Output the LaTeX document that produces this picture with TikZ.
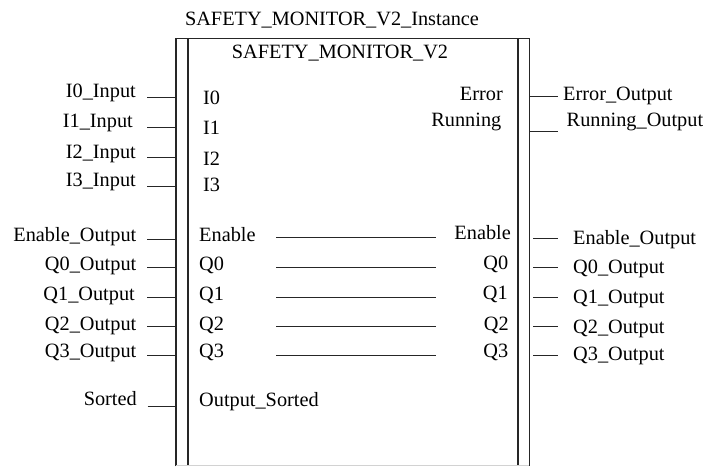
\documentclass[tikz,border=0pt]{standalone}
\usepackage{fontspec}
\setmainfont{Liberation Serif}
\usetikzlibrary{positioning}

\begin{document}
\begin{tikzpicture}[x=1pt, y=-1pt,
lbl/.style={inner sep=0pt, font=\fontsize{20.3}{24}\selectfont},
leftlbl/.style={lbl, anchor=base east},
rightlbl/.style={lbl, anchor=base west},
wire/.style={black!85, line width=1pt},
blockline/.style={black!85, line width=1.2pt}
]
\useasboundingbox (0,0) rectangle (703,466);

% function block
\node[inner sep=0pt, minimum width=353, minimum height=427.3, anchor=north west] (blk) at (176,38.7) {};
\draw[blockline] (blk.south west) -- (blk.north west) -- (blk.north east) -- (blk.south east);
\draw[blockline] ([xshift=12]blk.north west) -- ([xshift=12]blk.south west);
\draw[blockline] ([xshift=-11.5]blk.north east) -- ([xshift=-11.5]blk.south east);
\draw[gray!35] ([yshift=1]blk.south west) -- ([yshift=1]blk.south east);

\node[lbl, anchor=base] (inst) at (332,25) {SAFETY\_MONITOR\_V2\_Instance};
\node[lbl, anchor=base] (fbname) at (340,58.3) {SAFETY\_MONITOR\_V2};

% inputs
\node[leftlbl] (i0in) at (136,97.3) {I0\_Input};
\node[leftlbl] (i1in) at (133,127) {I1\_Input};
\node[leftlbl] (i2in) at (136,158) {I2\_Input};
\node[leftlbl] (i3in) at (136,186) {I3\_Input};
\node[leftlbl] (enin) at (136.5,241.7) {Enable\_Output};
\node[leftlbl] (q0in) at (136.5,270.7) {Q0\_Output};
\node[leftlbl] (q1in) at (135,300) {Q1\_Output};
\node[leftlbl] (q2in) at (136.5,330) {Q2\_Output};
\node[leftlbl] (q3in) at (136.5,357.5) {Q3\_Output};
\node[leftlbl] (sortin) at (137,405.5) {Sorted};

\coordinate (wi0) at (147,97);
\coordinate (wi1) at (147,127.5);
\coordinate (wi2) at (147,157);
\coordinate (wi3) at (147,186.5);
\coordinate (wen) at (147,239);
\coordinate (wq0) at (147,267.5);
\coordinate (wq1) at (147,297);
\coordinate (wq2) at (147,326);
\coordinate (wq3) at (147,355);
\coordinate (wsort) at (147.5,406);
\draw[wire] (wi0) -- (wi0 -| blk.west);
\draw[wire] (wi1) -- (wi1 -| blk.west);
\draw[wire] (wi2) -- (wi2 -| blk.west);
\draw[wire] (wi3) -- (wi3 -| blk.west);
\draw[wire] (wen) -- (wen -| blk.west);
\draw[wire] (wq0) -- (wq0 -| blk.west);
\draw[wire] (wq1) -- (wq1 -| blk.west);
\draw[wire] (wq2) -- (wq2 -| blk.west);
\draw[wire] (wq3) -- (wq3 -| blk.west);
\draw[wire] (wsort) -- (wsort -| blk.west);

% pins inside
\node[rightlbl] (pi0) at (203,104) {I0};
\node[rightlbl] (pi1) at (203,134) {I1};
\node[rightlbl] (pi2) at (203,165) {I2};
\node[rightlbl] (pi3) at (203,191.7) {I3};
\node[rightlbl] (pen) at (199,241.7) {Enable};
\node[rightlbl] (pq0) at (199,270.7) {Q0};
\node[rightlbl] (pq1) at (199,300) {Q1};
\node[rightlbl] (pq2) at (199,330) {Q2};
\node[rightlbl] (pq3) at (199,357.5) {Q3};
\node[rightlbl] (psort) at (199,406) {Output\_Sorted};

\node[leftlbl] (perr) at (503,100.7) {Error};
\node[leftlbl] (prun) at (501.5,126.7) {Running};
\node[leftlbl] (pen2) at (511,239) {Enable};
\node[leftlbl] (pq02) at (508.5,269.3) {Q0};
\node[leftlbl] (pq12) at (508,299) {Q1};
\node[leftlbl] (pq22) at (509,330) {Q2};
\node[leftlbl] (pq32) at (508.5,357.7) {Q3};

% pass-through lines
\coordinate (len) at (276,237.7);
\coordinate (lq0) at (276,267.3);
\coordinate (lq1) at (276,297.3);
\coordinate (lq2) at (276,326);
\coordinate (lq3) at (276,355.7);
\draw[wire] (len) -- ++(160,0);
\draw[wire] (lq0) -- ++(160,0);
\draw[wire] (lq1) -- ++(160,0);
\draw[wire] (lq2) -- ++(160,0);
\draw[wire] (lq3) -- ++(160,0);

% outputs
\coordinate (werr) at (558,96);
\coordinate (wrun) at (558,131);
\coordinate (wen2) at (558,238);
\coordinate (wq02) at (558,267);
\coordinate (wq12) at (558,297);
\coordinate (wq22) at (558,326);
\coordinate (wq32) at (558,355);
\draw[wire] (werr -| blk.east) -- (werr);
\draw[wire] (wrun -| blk.east) -- (wrun);
\draw[wire] ([xshift=4]wen2 -| blk.east) -- (wen2);
\draw[wire] ([xshift=4]wq02 -| blk.east) -- (wq02);
\draw[wire] ([xshift=4]wq12 -| blk.east) -- (wq12);
\draw[wire] ([xshift=4]wq22 -| blk.east) -- (wq22);
\draw[wire] ([xshift=4]wq32 -| blk.east) -- (wq32);

\node[rightlbl] (errout) at (563,100.7) {Error\_Output};
\node[rightlbl] (runout) at (566.5,126) {Running\_Output};
\node[rightlbl] (enout) at (573,244) {Enable\_Output};
\node[rightlbl] (q0out) at (573,273) {Q0\_Output};
\node[rightlbl] (q1out) at (573,303) {Q1\_Output};
\node[rightlbl] (q2out) at (573,333) {Q2\_Output};
\node[rightlbl] (q3out) at (573,360) {Q3\_Output};
\end{tikzpicture}
\end{document}
